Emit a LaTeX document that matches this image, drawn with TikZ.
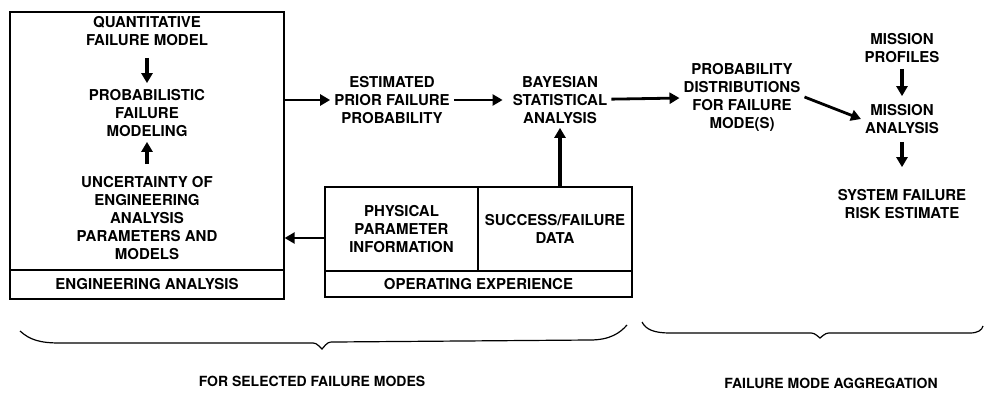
\documentclass[tikz,border=0pt]{standalone}
\usepackage{fontspec}
\setmainfont{TeX Gyre Heros}
\usetikzlibrary{arrows.meta}

\begin{document}
\begin{tikzpicture}[x=1pt,y=-1pt,
  txt/.style = {align=center, inner sep=4pt, font=\fontsize{15}{18}\selectfont\bfseries},
  box/.style = {draw, line width=1.3pt},
  arr/.style = {-{Triangle[length=10pt,width=11pt]}, line width=2.8pt},
  varr/.style = {arr, line width=3.6pt},
  brc/.style = {line width=1.2pt},
  lbl/.style = {font=\fontsize{14}{16}\selectfont\bfseries}]
\useasboundingbox (0,0) rectangle (987,396);
\node[box, minimum width=274pt, minimum height=258pt] (eng) at (147,141) {};
\node[txt, box, minimum width=274pt, minimum height=29pt] (englbl) at (147,284.5) {ENGINEERING ANALYSIS};
\node[txt] (quant) at (147,31) {QUANTITATIVE\\FAILURE MODEL};
\node[txt] (prob) at (147,113) {PROBABILISTIC\\FAILURE\\MODELING};
\node[txt] (unc) at (147,218) {UNCERTAINTY OF\\ENGINEERING\\ANALYSIS\\PARAMETERS AND\\MODELS};
\node[txt, box, minimum width=153pt, minimum height=84pt] (phys) at (401.5,229) {PHYSICAL\\PARAMETER\\INFORMATION};
\node[txt, box, minimum width=154pt, minimum height=84pt] (succ) at (555,229) {SUCCESS/FAILURE\\DATA};
\node[txt, box, minimum width=307pt, minimum height=26pt] (oplbl) at (478.5,284) {OPERATING EXPERIENCE};
\node[txt] (est) at (392,100) {ESTIMATED\\PRIOR FAILURE\\PROBABILITY};
\node[txt] (bayes) at (560,100) {BAYESIAN\\STATISTICAL\\ANALYSIS};
\node[txt] (distr) at (742,97) {PROBABILITY\\DISTRIBUTIONS\\FOR FAILURE\\MODE(S)};
\node[txt] (prof) at (902,48) {MISSION\\PROFILES};
\node[txt] (miss) at (902,119) {MISSION\\ANALYSIS};
\node[txt] (risk) at (902,204) {SYSTEM FAILURE\\RISK ESTIMATE};
\node[lbl] (sel) at (312,381) {FOR SELECTED FAILURE MODES};
\node[lbl] (agg) at (831,383) {FAILURE MODE AGGREGATION};
\coordinate (pw) at ([yshift=-9pt]phys.west);
\draw[varr, shorten <=8pt, shorten >=2pt] (quant) -- (prob);
\draw[varr, shorten <=8pt, shorten >=1pt] (unc) -- (prob);
\draw[arr] (eng.east |- est) -- (est);
\draw[arr, shorten >=6pt] (est) -- (bayes);
\draw[arr] (bayes) -- (distr);
\draw[arr] (distr.east) -- (miss.west);
\draw[varr, shorten <=2pt, shorten >=4pt] (prof) -- (miss);
\draw[varr, shorten <=4pt, shorten >=18pt] (miss) -- (risk);
\draw[varr] (bayes.south |- succ.north) -- (bayes.south);
\draw[arr] (pw) -- (eng.east |- pw);
\draw[brc] (20,331) .. controls (30,340) and (40,343) .. (60,343) -- (310,343)
  .. controls (316,343) .. (322,349) .. controls (328,342) .. (334,342) -- (590,340)
  .. controls (610,340) and (620,333) .. (627,325);
\draw[brc] (642,322) .. controls (646,330) and (655,333) .. (670,333) -- (808,333)
  .. controls (814,333) .. (820,338) .. controls (826,333) .. (832,333) -- (970,333)
  .. controls (978,333) and (982,330) .. (983,326);
\end{tikzpicture}
\end{document}
